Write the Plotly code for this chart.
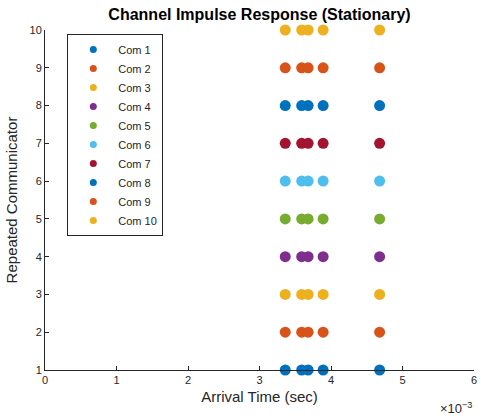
import plotly.graph_objects as go

# Arrival times (seconds) of the received paths, same for every repetition
arrival_times = [3.36e-3, 3.59e-3, 3.68e-3, 3.89e-3, 4.68e-3]
communicators = [1, 2, 3, 4, 5, 6, 7, 8, 9, 10]
series_names = ["Com %d" % c for c in communicators]
matlab_colors = ["#0072BD", "#D95319", "#EDB120", "#7E2F8E", "#77AC30",
                 "#4DBEEE", "#A2142F"]
x_tick_labels = ["0", "1", "2", "3", "4", "5", "6"]
y_tick_labels = [str(c) for c in communicators]

font_family = "Liberation Sans, Arial, sans-serif"
axis_color = "#262626"

fig = go.Figure()
for i, (c, name) in enumerate(zip(communicators, series_names)):
    color = matlab_colors[i % len(matlab_colors)]
    # data markers
    fig.add_trace(go.Scatter(
        x=arrival_times,
        y=[c] * len(arrival_times),
        mode="markers",
        name=name,
        legendgroup=name,
        showlegend=False,
        marker=dict(size=11, color=color),
        cliponaxis=False,
    ))
    # smaller symbol for the legend entry
    fig.add_trace(go.Scatter(
        x=[None], y=[None],
        mode="markers",
        name=name,
        legendgroup=name,
        showlegend=True,
        marker=dict(size=7, color=color),
    ))

x_tick_vals = [float(t) * 1e-3 for t in x_tick_labels]

fig.update_layout(
    width=481, height=416,
    margin=dict(l=45, r=4, t=30, b=46),
    paper_bgcolor="white", plot_bgcolor="white",
    font=dict(family=font_family, size=11, color=axis_color),
    title=dict(text="<b>Channel Impulse Response (Stationary)</b>",
               x=0.5, xref="paper", xanchor="center", y=0.978, yanchor="top",
               font=dict(size=16, color="#000000")),
    xaxis=dict(range=[0, 6e-3], tickvals=x_tick_vals, ticktext=x_tick_labels,
               showgrid=False, zeroline=False, showline=True, linecolor=axis_color,
               linewidth=1, ticks="inside", ticklen=4, tickcolor=axis_color,
               tickfont=dict(size=11),
               title=dict(text="Arrival Time (sec)", font=dict(size=15), standoff=6)),
    yaxis=dict(range=[1, 10], tickvals=communicators, ticktext=y_tick_labels,
               showgrid=False, zeroline=False, showline=True, linecolor=axis_color,
               linewidth=1, ticks="inside", ticklen=4, tickcolor=axis_color,
               tickfont=dict(size=11),
               title=dict(text="Repeated Communicator", font=dict(size=15), standoff=8)),
    legend=dict(x=0.052, y=0.988, xanchor="left", yanchor="top",
                bordercolor=axis_color, borderwidth=1, bgcolor="white",
                font=dict(size=11), itemwidth=40, tracegroupgap=0),
    showlegend=True,
)

fig.add_annotation(text="×10<sup>−3</sup>", xref="paper", yref="paper",
                   x=1.0, y=-0.112, xanchor="right", yanchor="middle",
                   showarrow=False, font=dict(size=13, color=axis_color))

fig.write_html("out.html")
